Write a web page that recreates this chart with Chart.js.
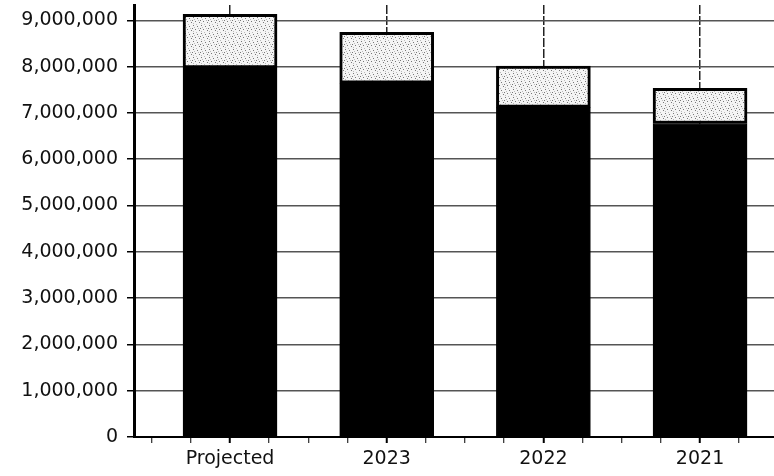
<!DOCTYPE html>
<html>
<head>
<meta charset="utf-8">
<script src="https://cdn.jsdelivr.net/npm/chart.js@4"></script>
<style>
  body { margin: 0; background: #fff; }
  #wrap { width: 774px; height: 476px; position: relative; }
</style>
</head>
<body>
<div id="wrap"><canvas id="chart"></canvas></div>
<script>
const categories = ['Projected', '2023', '2022', '2021'];
const baseValues = [7970000, 7640000, 7120000, 6770000];
const extraValues = [1160000, 1100000, 890000, 760000];
const yTicks = [0, 1000000, 2000000, 3000000, 4000000, 5000000, 6000000, 7000000, 8000000, 9000000];
// quarter marks along the category axis (small ticks between the bars)
const xTicks = [-0.5, -0.25, 0, 0.25, 0.5, 0.75, 1, 1.25, 1.5, 1.75, 2, 2.25, 2.5, 2.75, 3, 3.25];

// light stipple fill like the scanned top segments
function stipple() {
  const c = document.createElement('canvas');
  c.width = 8; c.height = 8;
  const g = c.getContext('2d');
  g.fillStyle = '#f4f4f4';
  g.fillRect(0, 0, 8, 8);
  g.fillStyle = '#777';
  [[1, 1], [5, 2], [3, 5], [7, 6], [0, 4]].forEach(p => g.fillRect(p[0], p[1], 1, 1));
  g.fillStyle = '#bbb';
  [[4, 0], [6, 4], [2, 3], [1, 7]].forEach(p => g.fillRect(p[0], p[1], 1, 1));
  return g.createPattern(c, 'repeat');
}

const isInt = v => Math.abs(v - Math.round(v)) < 1e-6;
const xMajor = c => c.tick && isInt(c.tick.value);

new Chart(document.getElementById('chart'), {
  type: 'bar',
  data: {
    datasets: [
      {
        label: 'Base',
        data: baseValues.map((v, i) => ({ x: i, y: v })),
        backgroundColor: '#000',
        borderColor: '#000',
        borderWidth: 1,
        barThickness: 94
      },
      {
        label: 'Extra',
        data: extraValues.map((v, i) => ({ x: i, y: v })),
        backgroundColor: stipple(),
        borderColor: '#000',
        borderWidth: 3,
        borderSkipped: false,
        barThickness: 94
      }
    ]
  },
  options: {
    responsive: true,
    maintainAspectRatio: false,
    animation: false,
    layout: { padding: { top: 5, left: 0, right: 0, bottom: 0 } },
    plugins: { legend: { display: false }, tooltip: { enabled: false } },
    scales: {
      x: {
        type: 'linear',
        stacked: true,
        offset: false,
        min: -0.613,
        max: 3.472,
        afterBuildTicks: s => { s.ticks = xTicks.map(v => ({ value: v })); },
        afterFit: s => { s.height = 39; s.paddingLeft = 0; s.paddingRight = 0; },
        ticks: {
          autoSkip: false,
          maxRotation: 0,
          padding: 5,
          color: '#111',
          font: { family: 'DejaVu Sans', size: 19 },
          callback: v => isInt(v) ? categories[Math.round(v)] : ''
        },
        grid: {
          offset: false,
          color: c => xMajor(c) ? '#222' : 'rgba(0,0,0,0)',
          tickColor: '#000',
          tickWidth: c => xMajor(c) ? 2 : 1,
          lineWidth: 1.5,
          tickLength: 6
        },
        border: { color: '#000', width: 2, dash: [9, 2] }
      },
      y: {
        stacked: true,
        min: 0,
        max: 9330000,
        afterBuildTicks: s => { s.ticks = yTicks.map(v => ({ value: v })); },
        afterFit: s => { s.width = 134; s.paddingTop = 0; s.paddingBottom = 0; },
        ticks: {
          autoSkip: false,
          padding: 9,
          color: '#111',
          font: { family: 'DejaVu Sans', size: 19 },
          callback: v => v.toLocaleString('en-US')
        },
        grid: {
          color: '#555',
          tickColor: '#000',
          lineWidth: 1.5,
          tickLength: 7
        },
        border: { color: '#000', width: 3 }
      }
    }
  }
});
</script>
</body>
</html>
